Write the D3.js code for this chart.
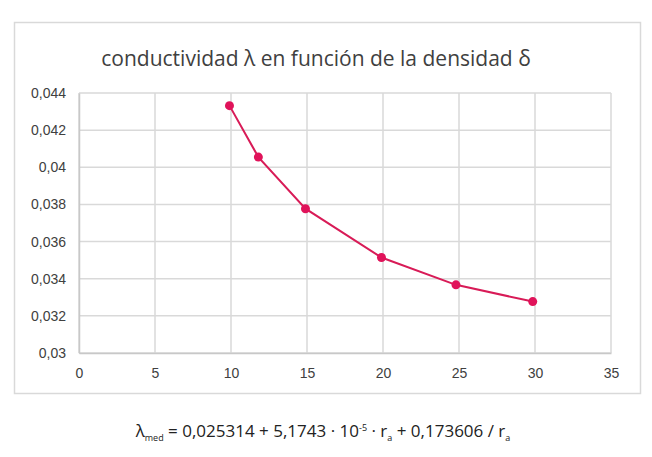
<!DOCTYPE html>
<html>
<head>
<meta charset="utf-8">
<script src="https://cdn.jsdelivr.net/npm/d3@7"></script>
<style>
  body { margin: 0; background: #fff; }
  svg { display: block; font-family: "Open Sans", "Liberation Sans", sans-serif; }
</style>
</head>
<body>
<div id="chart"></div>
<script>
// densidad (x) and conductividad (y)
var densidad = [9.9, 11.8, 14.9, 19.9, 24.8, 29.85];
var conductividad = [0.04332, 0.04055, 0.03777, 0.03514, 0.03367, 0.03277];
var xTicks = [0, 5, 10, 15, 20, 25, 30, 35];
var yTicks = [0.03, 0.032, 0.034, 0.036, 0.038, 0.04, 0.042, 0.044];

var W = 652, H = 457;
var margin = {top: 93, right: 41, bottom: 104, left: 79},
    width = W - margin.left - margin.right,
    height = H - margin.top - margin.bottom;

var svg = d3.select("#chart").append("svg")
    .attr("width", W)
    .attr("height", H);

// outer frame
svg.append("rect")
    .attr("x", 14.5).attr("y", 22.5)
    .attr("width", 626).attr("height", 371)
    .attr("fill", "#fff")
    .attr("stroke", "#d9d9d9")
    .attr("stroke-width", 1.5);

svg.append("text")
    .attr("x", 316)
    .attr("y", 66)
    .attr("text-anchor", "middle")
    .style("font-size", "21px")
    .style("fill", "#404040")
    .text("conductividad λ en función de la densidad δ");

var g = svg.append("g")
    .attr("transform", "translate(" + margin.left + "," + margin.top + ")");

var x = d3.scaleLinear().domain([0, 35]).range([0, width]);
var y = d3.scaleLinear().domain([0.03, 0.044]).range([height, 0]);

// grid
g.selectAll(".hgrid").data(yTicks).enter().append("line")
    .attr("x1", 0).attr("x2", width)
    .attr("y1", function(d) { return y(d); })
    .attr("y2", function(d) { return y(d); })
    .attr("stroke", "#d9d9d9").attr("stroke-width", 1.5);

g.selectAll(".vgrid").data(xTicks).enter().append("line")
    .attr("y1", 0).attr("y2", height)
    .attr("x1", function(d) { return x(d); })
    .attr("x2", function(d) { return x(d); })
    .attr("stroke", "#d9d9d9").attr("stroke-width", 1.5);

var fmt = function(d) { return String(+d.toFixed(3)).replace(".", ","); };

// x axis
var xa = g.append("g")
    .attr("transform", "translate(0," + height + ")")
    .call(d3.axisBottom(x).tickValues(xTicks).tickSize(0).tickPadding(15));
xa.select(".domain").attr("stroke", "#c8c8c8").attr("stroke-width", 1.5);
xa.selectAll("text").style("font-size", "14px").style("fill", "#404040");

// y axis
var ya = g.append("g")
    .call(d3.axisLeft(y).tickValues(yTicks).tickFormat(fmt).tickSize(0).tickPadding(13));
ya.select(".domain").attr("stroke", "#c8c8c8").attr("stroke-width", 1.5);
ya.selectAll("text").style("font-size", "14px").style("fill", "#404040");

var pts = densidad.map(function(d, i) { return {x: d, y: conductividad[i]}; });

g.append("path")
    .datum(pts)
    .attr("fill", "none")
    .attr("stroke", "#d81b57")
    .attr("stroke-width", 2)
    .attr("d", d3.line().x(function(d) { return x(d.x); }).y(function(d) { return y(d.y); }));

g.selectAll(".pt").data(pts).enter().append("circle")
    .attr("cx", function(d) { return x(d.x); })
    .attr("cy", function(d) { return y(d.y); })
    .attr("r", 4.5)
    .attr("fill", "#e0135a");

// formula below the chart
var f = svg.append("text")
    .attr("x", 323)
    .attr("y", 437)
    .attr("text-anchor", "middle")
    .style("font-size", "17px")
    .style("fill", "#222");
f.append("tspan").text("λ");
f.append("tspan").attr("dy", 4).style("font-size", "9px").text("med");
f.append("tspan").attr("dy", -4).text(" = 0,025314 + 5,1743 · 10");
f.append("tspan").attr("dy", -6).style("font-size", "9px").text("-5");
f.append("tspan").attr("dy", 6).text(" · r");
f.append("tspan").attr("dy", 4).style("font-size", "9px").text("a");
f.append("tspan").attr("dy", -4).text(" + 0,173606 / r");
f.append("tspan").attr("dy", 4).style("font-size", "9px").text("a");
</script>
</body>
</html>
